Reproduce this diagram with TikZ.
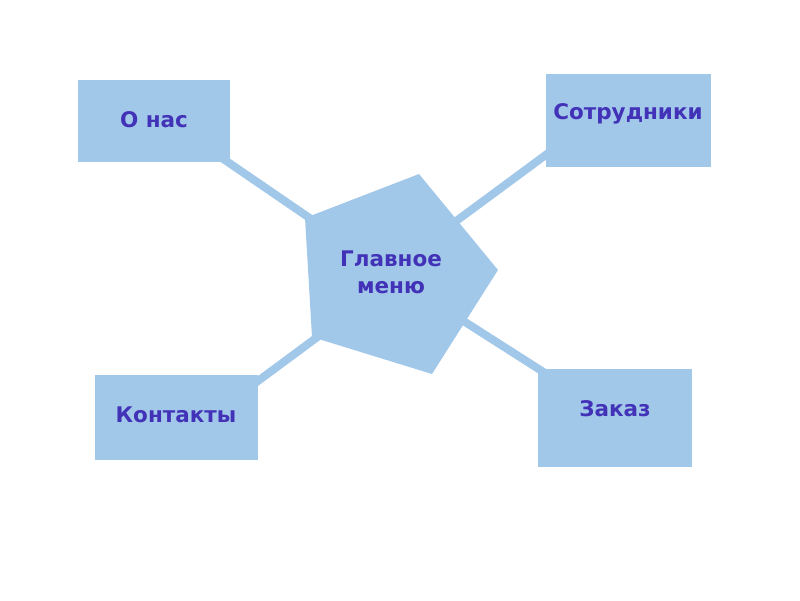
\documentclass[tikz,border=0pt]{standalone}
\usepackage{fontspec}
\setmainfont{DejaVu Sans}
\definecolor{boxblue}{HTML}{A2C8E9}
\definecolor{txt}{HTML}{4232B8}
\begin{document}
\begin{tikzpicture}[x=1pt,y=-1pt,
  box/.style={fill=boxblue,draw=none,inner sep=0pt},
  lbl/.style={text=txt,font=\bfseries\fontsize{21.5}{27}\selectfont,align=center},
  link/.style={draw=boxblue,line width=8pt}]
\useasboundingbox (0,0) rectangle (800,600);
% connector endpoints
\coordinate (a1) at (200,143); \coordinate (a2) at (330,232);
\coordinate (b1) at (570,137); \coordinate (b2) at (440,233);
\coordinate (c1) at (235,398); \coordinate (c2) at (335,324);
\coordinate (d1) at (570,389); \coordinate (d2) at (440,306);
\draw[link] (a1) -- (a2);
\draw[link] (b1) -- (b2);
\draw[link] (c1) -- (c2);
\draw[link] (d1) -- (d2);
% boxes
\fill[boxblue] (78,80) rectangle (230,162);
\fill[boxblue] (546,74) rectangle (711,167);
\fill[boxblue] (95,375) rectangle (258,460);
\fill[boxblue] (538,369) rectangle (692,467);
\fill[boxblue] (419,174) -- (498,270) -- (432,374) -- (312,337) -- (305,218) -- cycle;
% labels
\node[lbl] (onas) at (154,120) {О нас};
\node[lbl] (sotr) at (628,114) {Сотрудники};
\node[lbl] (kont) at (176,415) {Контакты};
\node[lbl] (zak) at (615,409) {Заказ};
\node[lbl] (main) at (391,272) {Главное\\меню};
\end{tikzpicture}
\end{document}
